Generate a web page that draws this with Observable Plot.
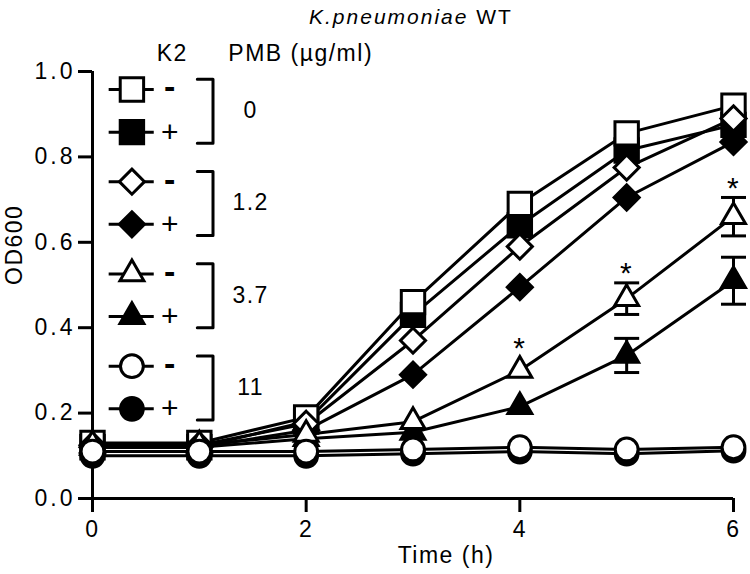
<!DOCTYPE html>
<html><head><meta charset="utf-8">
<script src="https://cdn.jsdelivr.net/npm/d3@7"></script>
<script src="https://cdn.jsdelivr.net/npm/@observablehq/plot@0.6"></script>
<style>
body{margin:0;background:#fff;}
#chart svg{display:block;}
</style></head><body><div id="chart"></div>
<script>
// ---- data ----
const times = [0, 1, 2, 3, 4, 5, 6];
const k2Signs = ["-", "+", "-", "+", "-", "+", "-", "+"];
const pmbLabels = ["0", "1.2", "3.7", "11"];
const od_sqOpen  = [0.130, 0.130, 0.190, 0.460, 0.690, 0.855, 0.920];
const od_sqFill  = [0.120, 0.120, 0.180, 0.430, 0.640, 0.815, 0.875];
const od_diaOpen = [0.125, 0.125, 0.175, 0.370, 0.590, 0.775, 0.890];
const od_diaFill = [0.120, 0.120, 0.160, 0.290, 0.495, 0.705, 0.835];
const od_triOpen = [0.125, 0.125, 0.150, 0.180, 0.300, 0.468, 0.660];
const od_triFill = [0.120, 0.120, 0.140, 0.155, 0.215, 0.335, 0.510];
const od_cirOpen = [0.110, 0.110, 0.110, 0.115, 0.120, 0.115, 0.120];
const od_cirFill = [0.100, 0.100, 0.100, 0.105, 0.110, 0.105, 0.112];
const sd_triOpen = [0, 0, 0, 0, 0.010, 0.037, 0.045];
const sd_triFill = [0, 0, 0, 0, 0.006, 0.040, 0.055];
const sigTimes = [4, 5, 6];
const yTicks = [0, 0.2, 0.4, 0.6, 0.8, 1.0];
const xTicks = [0, 2, 4, 6];
const titleItalic = "K.pneumoniae";
const titleRest = "WT";
const xLabel = "Time (h)";
const yLabel = "OD600";
const headK2 = "K2";
const headPMB = "PMB (µg/ml)";

// ---- styles ----
const FONT = "'Liberation Sans', Arial, Helvetica, sans-serif";
const series = [
  {id: "sqOpen",  values: od_sqOpen,  sd: null,       symbol: "square",   r: 13.2, fill: "white"},
  {id: "sqFill",  values: od_sqFill,  sd: null,       symbol: "square",   r: 13.2, fill: "black"},
  {id: "diaOpen", values: od_diaOpen, sd: null,       symbol: "diamond2", r: 11.3, fill: "white"},
  {id: "diaFill", values: od_diaFill, sd: null,       symbol: "diamond2", r: 11.3, fill: "black"},
  {id: "triOpen", values: od_triOpen, sd: sd_triOpen, symbol: "triangle2", r: 11.4, fill: "white"},
  {id: "triFill", values: od_triFill, sd: sd_triFill, symbol: "triangle2", r: 11.4, fill: "black"},
  {id: "cirOpen", values: od_cirOpen, sd: null,       symbol: "circle",   r: 11.4, fill: "white"},
  {id: "cirFill", values: od_cirFill, sd: null,       symbol: "circle",   r: 11.4, fill: "black"}
];
const drawOrder = ["sqFill", "sqOpen", "diaFill", "diaOpen", "triFill", "triOpen", "cirFill", "cirOpen"];
const byId = Object.fromEntries(series.map(s => [s.id, s]));

const rows = series.flatMap(s => times.map((t, j) => ({id: s.id, t, v: s.values[j], sd: s.sd ? s.sd[j] : 0})));
const errRows = rows.filter(d => d.sd > 0.015);
const sigRows = sigTimes.map(t => rows.find(d => d.id === "triOpen" && d.t === t));

// legend layout (in data units of the axes)
const LG = {x1: 0.156, x2: 0.578, sym: 0.369, sign: 0.73, brA: 0.981, brB: 1.128, lab: 1.48,
            top: 0.958, pair: 0.1, group: 0.216, up: 0.024, down: 0.026, headY: 1.042, k2X: 0.747, pmbX: 1.271};
const legRows = series.map((s, i) => ({id: s.id, sign: k2Signs[i], y: LG.top - Math.floor(i / 2) * LG.group - (i % 2) * LG.pair}));
const brRows = pmbLabels.flatMap((lab, g) => {
  const a = LG.top - g * LG.group + LG.up, b = LG.top - g * LG.group - LG.pair - LG.down;
  return [{g, x: LG.brA, y: a}, {g, x: LG.brB, y: a}, {g, x: LG.brB, y: b}, {g, x: LG.brA, y: b}];
});
const labRows = pmbLabels.map((lab, g) => ({lab, y: LG.top - g * LG.group - LG.pair / 2}));

const capSymbol = {draw(ctx, size) { const w = Math.sqrt(size / Math.PI); ctx.moveTo(-w, 0); ctx.lineTo(w, 0); }};

const chart = Plot.plot({
  width: 750, height: 574,
  marginLeft: 92, marginRight: 17, marginTop: 71, marginBottom: 76,
  x: {domain: [0, 6]},
  y: {domain: [0, 1]},
  style: {fontFamily: FONT, fontSize: "23px", color: "black", background: "white", letterSpacing: "1.5px"},
  marks: [
    Plot.ruleX([0], {y1: 0, y2: 1, stroke: "black", strokeWidth: 3}),
    Plot.ruleY([0], {x1: 0, x2: 6, stroke: "black", strokeWidth: 3}),
    Plot.axisY({ticks: yTicks, tickSize: 14, tickPadding: 3, tickFormat: d3.format(".1f"), fontSize: 23, strokeWidth: 3, label: null}),
    Plot.axisX({ticks: xTicks, tickSize: 14, tickPadding: 8, tickFormat: d3.format("d"), fontSize: 23, strokeWidth: 3, label: null}),
    Plot.line(rows, {x: "t", y: "v", z: "id", stroke: "black", strokeWidth: 3}),
    Plot.ruleX(errRows, {x: "t", y1: d => d.v - d.sd, y2: d => d.v + d.sd, stroke: "black", strokeWidth: 3}),
    Plot.dot(errRows, {x: "t", y: d => d.v + d.sd, symbol: capSymbol, r: 12.5, fill: "none", stroke: "black", strokeWidth: 3}),
    Plot.dot(errRows, {x: "t", y: d => d.v - d.sd, symbol: capSymbol, r: 12.5, fill: "none", stroke: "black", strokeWidth: 3}),
    ...drawOrder.map(id => {
      const s = byId[id];
      return Plot.dot(rows.filter(d => d.id === id), {x: "t", y: "v", symbol: s.symbol, r: s.r, fill: s.fill, stroke: "black", strokeWidth: 3});
    }),
    Plot.text(sigRows, {x: "t", y: d => Math.max(d.v + d.sd, d.v + 0.03), text: () => "*", fontSize: 30, dy: -9}),
    // axis titles
    Plot.text([yLabel], {frameAnchor: "left", dx: -78, rotate: -90, text: d => d, fontSize: 23}),
    Plot.text([xLabel], {frameAnchor: "bottom", dx: 33, dy: 64, text: d => d, fontSize: 23}),
    // legend
    Plot.ruleY(legRows, {y: "y", x1: LG.x1, x2: LG.x2, stroke: "black", strokeWidth: 3}),
    ...series.map(s => Plot.dot(legRows.filter(d => d.id === s.id), {x: LG.sym, y: "y", symbol: s.symbol, r: s.r, fill: s.fill, stroke: "black", strokeWidth: 3})),
    Plot.text(legRows.filter(d => d.sign === "+"), {x: LG.sign, y: "y", text: "sign", fontSize: 30, textAnchor: "middle"}),
    Plot.text(legRows.filter(d => d.sign === "-"), {x: LG.sign, y: "y", text: "sign", fontSize: 34, fontWeight: "bold", textAnchor: "middle", dy: -2}),
    Plot.line(brRows, {x: "x", y: "y", z: "g", stroke: "black", strokeWidth: 3}),
    Plot.text(labRows, {x: LG.lab, y: "y", text: "lab", fontSize: 23}),
    Plot.text([headK2], {x: LG.k2X, y: LG.headY, text: d => d, fontSize: 23}),
    Plot.text([headPMB], {x: LG.pmbX, y: LG.headY, text: d => d, fontSize: 23, textAnchor: "start"})
  ]
});

// title with italic species name
const svg = d3.select(chart);
const title = svg.append("text").attr("x", 411).attr("y", 24).attr("text-anchor", "middle")
  .attr("font-family", FONT).attr("font-size", 21).attr("letter-spacing", "2px").attr("fill", "black");
title.append("tspan").attr("font-style", "italic").text(titleItalic);
title.append("tspan").text(" " + titleRest);
svg.selectAll("[aria-label='y-axis tick label'] text").attr("letter-spacing", "3px");

document.getElementById("chart").append(chart);
</script></body></html>
